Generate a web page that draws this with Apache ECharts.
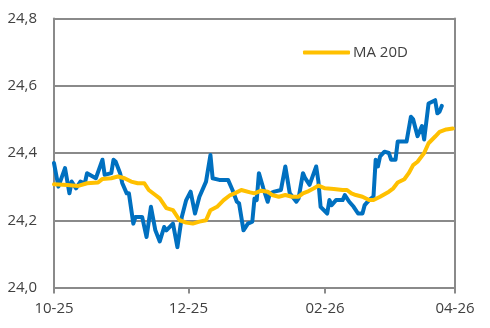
<!DOCTYPE html>
<html>
<head>
<meta charset="utf-8">
<script src="https://cdn.jsdelivr.net/npm/echarts@6/dist/echarts.min.js"></script>
<style>
html,body{margin:0;padding:0;background:#fff;}
#c{width:490px;height:328px;}
</style>
</head>
<body>
<div id="c"></div>
<script>
// Daily rate (blue)
const rateDates = ["2025-10-01","2025-10-03","2025-10-06","2025-10-08","2025-10-09","2025-10-11","2025-10-13","2025-10-15","2025-10-16","2025-10-20","2025-10-23","2025-10-24","2025-10-27","2025-10-28","2025-10-29","2025-10-31","2025-11-01","2025-11-03","2025-11-04","2025-11-06","2025-11-07","2025-11-10","2025-11-12","2025-11-14","2025-11-16","2025-11-18","2025-11-20","2025-11-21","2025-11-24","2025-11-26","2025-11-28","2025-11-30","2025-12-02","2025-12-04","2025-12-06","2025-12-09","2025-12-11","2025-12-12","2025-12-15","2025-12-19","2025-12-21","2025-12-23","2025-12-24","2025-12-26","2025-12-28","2025-12-30","2025-12-31","2026-01-01","2026-01-02","2026-01-04","2026-01-06","2026-01-07","2026-01-09","2026-01-12","2026-01-14","2026-01-15","2026-01-16","2026-01-19","2026-01-20","2026-01-22","2026-01-23","2026-01-25","2026-01-28","2026-01-29","2026-01-30","2026-02-02","2026-02-03","2026-02-04","2026-02-06","2026-02-09","2026-02-10","2026-02-12","2026-02-14","2026-02-16","2026-02-18","2026-02-19","2026-02-21","2026-02-23","2026-02-24","2026-02-25","2026-02-26","2026-02-28","2026-03-02","2026-03-03","2026-03-05","2026-03-06","2026-03-10","2026-03-12","2026-03-13","2026-03-15","2026-03-17","2026-03-18","2026-03-20","2026-03-23","2026-03-24","2026-03-25","2026-03-26"];
const rateValues = [24.37,24.30,24.355,24.28,24.315,24.295,24.315,24.31,24.34,24.325,24.38,24.335,24.34,24.38,24.374,24.34,24.31,24.28,24.28,24.19,24.21,24.21,24.15,24.24,24.17,24.137,24.18,24.17,24.19,24.12,24.21,24.26,24.285,24.22,24.27,24.315,24.394,24.325,24.32,24.32,24.29,24.255,24.25,24.17,24.19,24.196,24.265,24.26,24.34,24.295,24.255,24.28,24.285,24.29,24.36,24.32,24.28,24.255,24.265,24.34,24.325,24.305,24.36,24.315,24.24,24.22,24.26,24.245,24.26,24.26,24.275,24.255,24.24,24.22,24.22,24.245,24.26,24.27,24.38,24.36,24.39,24.404,24.40,24.38,24.38,24.434,24.434,24.508,24.50,24.45,24.48,24.44,24.547,24.557,24.518,24.523,24.54];

// 20-day moving average (yellow)
const maDates = ["2025-10-01","2025-10-07","2025-10-12","2025-10-16","2025-10-21","2025-10-23","2025-10-27","2025-10-30","2025-11-02","2025-11-05","2025-11-08","2025-11-11","2025-11-13","2025-11-16","2025-11-18","2025-11-21","2025-11-24","2025-11-27","2025-11-30","2025-12-03","2025-12-06","2025-12-09","2025-12-11","2025-12-14","2025-12-17","2025-12-20","2025-12-22","2025-12-25","2025-12-29","2025-12-31","2026-01-03","2026-01-06","2026-01-08","2026-01-11","2026-01-14","2026-01-17","2026-01-20","2026-01-22","2026-01-24","2026-01-27","2026-01-29","2026-02-01","2026-02-05","2026-02-09","2026-02-11","2026-02-13","2026-02-15","2026-02-18","2026-02-21","2026-02-23","2026-02-26","2026-03-02","2026-03-04","2026-03-06","2026-03-09","2026-03-11","2026-03-13","2026-03-15","2026-03-18","2026-03-20","2026-03-23","2026-03-25","2026-03-28","2026-03-31"];
const maValues = [24.307,24.305,24.302,24.31,24.312,24.323,24.325,24.33,24.325,24.315,24.31,24.31,24.29,24.275,24.265,24.236,24.23,24.20,24.193,24.19,24.196,24.20,24.23,24.24,24.26,24.275,24.28,24.29,24.283,24.28,24.288,24.285,24.275,24.27,24.275,24.27,24.27,24.28,24.285,24.295,24.303,24.295,24.293,24.29,24.29,24.28,24.275,24.27,24.26,24.26,24.27,24.285,24.295,24.312,24.322,24.34,24.364,24.374,24.40,24.429,24.449,24.463,24.47,24.473];

const xTicks = ["2025-10-01","2025-12-01","2026-02-01","2026-04-01"];
const yTicks = [24.0,24.2,24.4,24.6,24.8];
const legendLabel = "MA 20D";

function ts(s){const p=s.split("-").map(Number);return Date.UTC(p[0],p[1]-1,p[2]);}
function pairs(d,v){return d.map((x,i)=>[ts(x),v[i]]);}

const txt = '#404040';
const axisGray = '#8a8a8a';
const font = 'Open Sans';
const tickVals = xTicks.map(ts);

const chart = echarts.init(document.getElementById('c'), null, {renderer:'canvas'});
chart.setOption({
  animation:false,
  backgroundColor:'#ffffff',
  grid:{left:54,right:35,top:18.5,bottom:40.5,containLabel:false},
  legend:{
    data:[legendLabel],
    icon:'roundRect',
    left:298, top:40,
    itemWidth:47, itemHeight:4, itemGap:10,
    textStyle:{color:txt,fontFamily:font,fontSize:15,padding:[0,0,0,-2]}
  },
  xAxis:{
    type:'value',
    min:tickVals[0], max:tickVals[tickVals.length-1],
    axisLine:{show:true,lineStyle:{color:axisGray,width:2}},
    axisTick:{show:true,length:6,lineStyle:{color:axisGray,width:2},customValues:tickVals},
    axisLabel:{
      customValues:tickVals,
      showMinLabel:true, showMaxLabel:true,
      color:txt,fontFamily:font,fontSize:15,margin:14,
      formatter:function(v){const d=new Date(v);const m=d.getUTCMonth()+1;const y=d.getUTCFullYear()%100;return (m<10?'0':'')+m+'-'+(y<10?'0':'')+y;}
    },
    splitLine:{show:false}
  },
  yAxis:[{
    type:'value',
    min:yTicks[0], max:yTicks[yTicks.length-1], interval:0.2,
    axisLine:{show:true,lineStyle:{color:axisGray,width:2}},
    axisTick:{show:false},
    axisLabel:{color:txt,fontFamily:font,fontSize:15,margin:17,
      formatter:function(v){return v.toFixed(1).replace('.',',');}},
    splitLine:{show:true,lineStyle:{color:axisGray,width:2}}
  },{
    type:'value',position:'right',
    min:yTicks[0], max:yTicks[yTicks.length-1], interval:0.2,
    axisLine:{show:true,lineStyle:{color:axisGray,width:2}},
    axisTick:{show:false},axisLabel:{show:false},splitLine:{show:false}
  }],
  series:[{
    name:'Kurs',
    type:'line',
    data:pairs(rateDates,rateValues),
    showSymbol:false,symbol:'none',
    lineStyle:{color:'#0070C0',width:4,join:'round',cap:'round'},
    itemStyle:{color:'#0070C0'},
    z:2
  },{
    name:legendLabel,
    type:'line',
    data:pairs(maDates,maValues),
    showSymbol:false,symbol:'none',
    lineStyle:{color:'#FFC000',width:4,join:'round',cap:'round'},
    itemStyle:{color:'#FFC000'},
    z:3
  }]
});
</script>
</body>
</html>
